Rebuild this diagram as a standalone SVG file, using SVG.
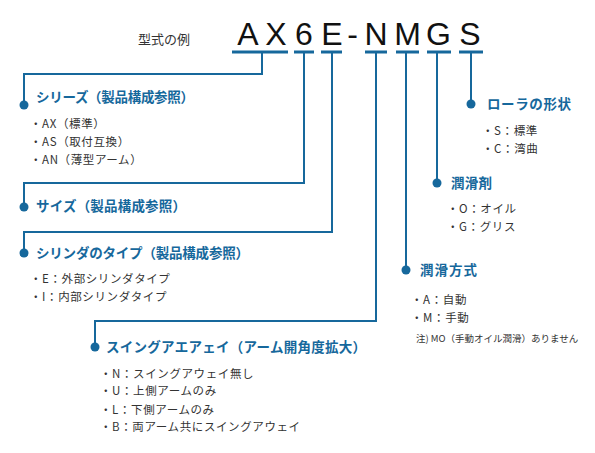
<svg xmlns="http://www.w3.org/2000/svg" width="595" height="453" viewBox="0 0 595 453">
<style>
.ln{stroke:#16689c;stroke-width:2;fill:none}
.bar{fill:#16689c}
.dot{fill:#16689c}
.code{font-family:"Liberation Sans",Arial,sans-serif;font-size:32px;fill:#111;text-anchor:middle}
.lbl{font-family:"Noto Sans CJK JP","Noto Sans",sans-serif;font-size:13px;fill:#333}
.ttl{font-family:"Noto Sans CJK JP","Noto Sans",sans-serif;font-size:13.5px;font-weight:bold;fill:#16689c}
.it{font-family:"Noto Sans CJK JP","Noto Sans",sans-serif;font-size:11.5px;letter-spacing:0.6px;fill:#333}
.note{font-family:"Noto Sans CJK JP","Noto Sans",sans-serif;font-size:9.5px;fill:#333}
</style>
<rect width="595" height="453" fill="#fff"/>
<g id="header">
<text class="lbl" x="138" y="44">型式の例</text>
<text class="code" x="248" y="45">A</text>
<text class="code" x="276" y="45">X</text>
<text class="code" x="304" y="45">6</text>
<text class="code" x="332" y="45">E</text>
<text class="code" x="352.5" y="45">-</text>
<text class="code" x="376" y="45">N</text>
<text class="code" x="407.5" y="45">M</text>
<text class="code" x="438.5" y="45">G</text>
<text class="code" x="470" y="45">S</text>
<rect class="bar" x="232" y="50.5" width="56" height="3"/>
<rect class="bar" x="294" y="50.5" width="20" height="3"/>
<rect class="bar" x="321" y="50.5" width="21" height="3"/>
<rect class="bar" x="365" y="50.5" width="22" height="3"/>
<rect class="bar" x="396" y="50.5" width="23" height="3"/>
<rect class="bar" x="427" y="50.5" width="24" height="3"/>
<rect class="bar" x="459" y="50.5" width="24" height="3"/>
</g>
<g id="connectors">
<polyline class="ln" points="262,53 262,74 24,74 24,105"/>
<polyline class="ln" points="304,53 304,183 24,183 24,207"/>
<polyline class="ln" points="332,53 332,232 24,232 24,253"/>
<polyline class="ln" points="376,53 376,321 95,321 95,347"/>
<polyline class="ln" points="406,53 406,270"/>
<polyline class="ln" points="437,53 437,183"/>
<polyline class="ln" points="471,53 471,104"/>
</g>
<g id="series">
<circle class="dot" cx="24" cy="105" r="4.5"/>
<text class="ttl" x="36" y="102" textLength="158" lengthAdjust="spacing">シリーズ（製品構成参照）</text>
<text class="it" x="30" y="127.5">・AX（標準）</text>
<text class="it" x="30" y="145.5">・AS（取付互換）</text>
<text class="it" x="30" y="163.5">・AN（薄型アーム）</text>
</g>
<g id="size">
<circle class="dot" cx="24" cy="207" r="4.5"/>
<text class="ttl" x="36" y="211" textLength="150" lengthAdjust="spacing">サイズ（製品構成参照）</text>
</g>
<g id="cylinder">
<circle class="dot" cx="24" cy="253" r="4.5"/>
<text class="ttl" x="36" y="257.5" textLength="213" lengthAdjust="spacing">シリンダのタイプ（製品構成参照）</text>
<text class="it" x="30" y="283">・E：外部シリンダタイプ</text>
<text class="it" x="30" y="300.5">・I：内部シリンダタイプ</text>
</g>
<g id="swing">
<circle class="dot" cx="95" cy="347" r="4.5"/>
<text class="ttl" x="106" y="352" textLength="260" lengthAdjust="spacing">スイングアエアェイ（アーム開角度拡大）</text>
<text class="it" x="100" y="377.5">・N：スイングアウェイ無し</text>
<text class="it" x="100" y="395">・U：上側アームのみ</text>
<text class="it" x="100" y="413.5">・L：下側アームのみ</text>
<text class="it" x="100" y="431">・B：両アーム共にスイングアウェイ</text>
</g>
<g id="method">
<circle class="dot" cx="406" cy="270" r="4.5"/>
<text class="ttl" x="420" y="275" textLength="57" lengthAdjust="spacing">潤滑方式</text>
<text class="it" x="411" y="303.5">・A：自動</text>
<text class="it" x="411" y="322">・M：手動</text>
<text class="note" x="416" y="342">注) MO（手動オイル潤滑）ありません</text>
</g>
<g id="lubricant">
<circle class="dot" cx="437" cy="183" r="4.5"/>
<text class="ttl" x="451" y="188" textLength="41" lengthAdjust="spacing">潤滑剤</text>
<text class="it" x="447" y="212.5">・O：オイル</text>
<text class="it" x="447" y="231">・G：グリス</text>
</g>
<g id="roller">
<circle class="dot" cx="471" cy="104" r="4.5"/>
<text class="ttl" x="487" y="109" textLength="84" lengthAdjust="spacing">ローラの形状</text>
<text class="it" x="482" y="134.5">・S：標準</text>
<text class="it" x="482" y="152.5">・C：湾曲</text>
</g>
</svg>
